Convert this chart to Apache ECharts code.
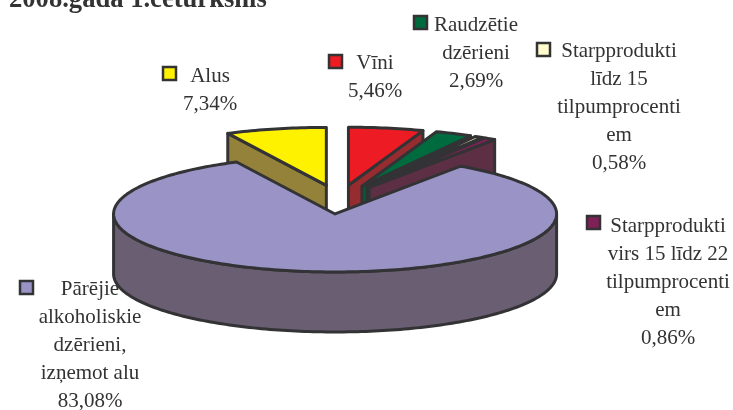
<!DOCTYPE html>
<html>
<head>
<meta charset="utf-8">
<style>
  html, body { margin: 0; padding: 0; background: #fff; }
  #chart { width: 733px; height: 410px; }
</style>
<script src="https://cdn.jsdelivr.net/npm/echarts@6/dist/echarts.min.js"></script>
</head>
<body>
<div id="chart"></div>
<script>
// clockwise from 12 o'clock
var categories = [
  "Vīni",
  "Raudzētie\ndzērieni",
  "Starpprodukti\nlīdz 15\ntilpumprocenti\nem",
  "Starpprodukti\nvirs 15 līdz 22\ntilpumprocenti\nem",
  "Pārējie\nalkoholiskie\ndzērieni,\nizņemot alu",
  "Alus"
];
var shareValues = [5.46, 2.69, 0.58, 0.86, 83.08, 7.34];
var shareLabels = ["5,46%", "2,69%", "0,58%", "0,86%", "83,08%", "7,34%"];

var topColors = ["#ED1C24", "#006B3F", "#FFFBCC", "#7F2157", "#9A93C6", "#FFF200"];
var wallColors = ["#962B30", "#0B5A36", "#A09C80", "#5D2F45", "#6A5E72", "#94823A"];
var drawOrder = [5, 0, 1, 2, 3, 4];

// pie geometry
var cx = 339, cy = 199.5, rx = 221.5, ry = 58, depth = 60, explode = 0.25;
var edgeColor = "#333336", textColor = "#333333";

// legend marker x, y and label center x, top y
var legendPos = [
  [329, 55, 375, 49],
  [414, 16, 476, 11],
  [537, 43, 619, 37],
  [587, 216, 668, 212],
  [20, 281, 90, 275],
  [163, 67, 210, 62]
];

var total = shareValues.reduce(function (a, b) { return a + b; }, 0);
var running = 0;
var angles = shareValues.map(function (v) {
  var start = running / total * Math.PI * 2;
  running += v;
  return [start, running / total * Math.PI * 2];
});

function pt(ox, oy, a, drop) {
  return [ox + rx * Math.sin(a), oy - ry * Math.cos(a) + (drop || 0)];
}
function arc(ox, oy, a0, a1, drop) {
  var pts = [], n = Math.max(2, Math.ceil((a1 - a0) / 0.02));
  for (var i = 0; i <= n; i++) {
    pts.push(pt(ox, oy, a0 + (a1 - a0) * i / n, drop));
  }
  return pts;
}

function renderSlice(params, api) {
  var idx = api.value(0), a0 = api.value(1), a1 = api.value(2);
  var mid = (a0 + a1) / 2;
  var ox = cx + explode * rx * Math.sin(mid);
  var oy = cy - explode * ry * Math.cos(mid);
  var children = [];
  var wallStyle = { fill: wallColors[idx], stroke: edgeColor, lineWidth: 3, lineJoin: "round" };

  function radial(a) {
    var e = pt(ox, oy, a);
    children.push({
      type: "polygon",
      shape: { points: [[ox, oy], e, [e[0], e[1] + depth], [ox, oy + depth]] },
      style: wallStyle
    });
  }
  if (Math.sin(a1) > 0.001) radial(a1);
  if (Math.sin(a0) < -0.001) radial(a0);

  // outer wall, front half only
  var f0 = Math.max(a0, Math.PI / 2), f1 = Math.min(a1, Math.PI * 1.5);
  if (f1 > f0) {
    children.push({
      type: "polygon",
      shape: { points: arc(ox, oy, f0, f1).concat(arc(ox, oy, f0, f1, depth).reverse()) },
      style: wallStyle
    });
  }

  children.push({
    type: "polygon",
    shape: { points: [[ox, oy]].concat(arc(ox, oy, a0, a1)) },
    style: { fill: topColors[idx], stroke: edgeColor, lineWidth: 3, lineJoin: "round" }
  });
  return { type: "group", children: children };
}

var graphics = [
  {
    type: "text", x: 9, y: -13, z: 10,
    style: { text: "2008.gada 1.ceturksnis", fill: textColor, font: "bold 26.6px 'Liberation Serif'" }
  }
];
categories.forEach(function (name, i) {
  var p = legendPos[i];
  graphics.push({
    type: "rect", z: 10,
    shape: { x: p[0], y: p[1], width: 13, height: 13 },
    style: { fill: topColors[i], stroke: edgeColor, lineWidth: 2.5 }
  });
  graphics.push({
    type: "text", x: p[2], y: p[3], z: 10,
    style: {
      text: name + "\n" + shareLabels[i],
      fill: textColor,
      font: "21px 'Liberation Serif'",
      lineHeight: 28,
      align: "center"
    }
  });
});

var chart = echarts.init(document.getElementById("chart"));
chart.setOption({
  backgroundColor: "#fff",
  animation: false,
  graphic: graphics,
  series: [
    {
      type: "custom",
      coordinateSystem: "none",
      renderItem: renderSlice,
      silent: true,
      data: drawOrder.map(function (i) {
        return [i, angles[i][0], angles[i][1]];
      })
    }
  ]
});
</script>
</body>
</html>
